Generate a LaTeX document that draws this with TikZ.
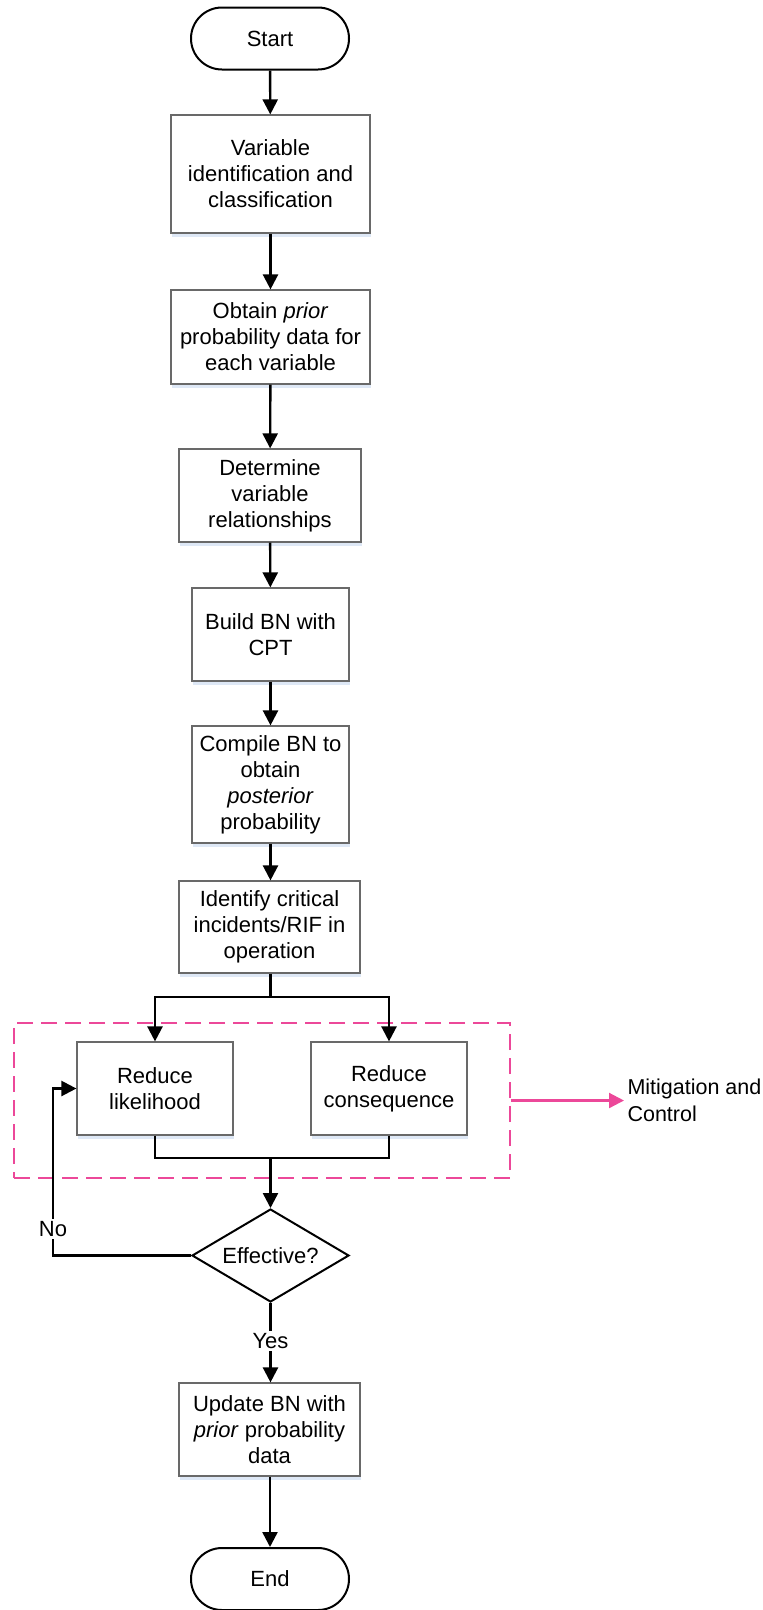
\documentclass[tikz,border=0pt]{standalone}
\usepackage{fontspec}
\setmainfont{Liberation Sans}
\usetikzlibrary{shapes.geometric,shapes.misc,arrows.meta,shadows}

\definecolor{zonepink}{RGB}{236,72,153}
\definecolor{boxedge}{RGB}{105,105,105}
\definecolor{shadowblue}{RGB}{222,232,246}

\begin{document}
\begin{tikzpicture}[x=1pt,y=-1pt,
  every node/.style={font=\fontsize{22}{26}\selectfont},
  procbox/.style={draw=boxedge, line width=1.2pt, fill=white, align=center,
    inner sep=0pt,
    drop shadow={shadow xshift=1pt, shadow yshift=-3.5pt, fill=shadowblue, opacity=1}},
  term/.style={draw=black, line width=2pt, rounded rectangle, fill=white,
    minimum width=158pt, minimum height=62pt, inner sep=0pt},
  decision/.style={draw=black, line width=2pt, diamond, aspect=1.69, fill=white,
    minimum width=157pt, minimum height=93pt, inner sep=0pt},
  flow/.style={draw=black, line width=2.4pt, line join=miter},
  conn/.style={flow, -{Triangle[length=15pt,width=15pt]}},
  zone/.style={draw=zonepink, line width=1.2pt, dash pattern=on 16pt off 8pt},
  zonearrow/.style={draw=zonepink, line width=2.2pt, -{Triangle[length=15pt,width=15pt]}},
  gaplabel/.style={fill=white, inner sep=2pt}
]
\useasboundingbox (0,0) rectangle (763,1610);

% mitigation and control zone
\node[zone, minimum width=496pt, minimum height=155pt, inner sep=0pt] (zonebox) at (262,1100.5) {};

% main sequence
\node[term] (start) at (270,38.5) {Start};
\node[procbox, minimum width=199pt, minimum height=118pt] (ident) at (270.5,174)
  {Variable\\identification and\\classification};
\node[procbox, minimum width=199pt, minimum height=94pt] (prior) at (270.5,337)
  {Obtain \textit{prior}\\probability data for\\each variable};
\node[procbox, minimum width=182pt, minimum height=93pt] (relat) at (270,495.5)
  {Determine\\variable\\relationships};
\node[procbox, minimum width=157pt, minimum height=93pt] (build) at (270.5,634.5)
  {Build BN with\\CPT};
\node[procbox, minimum width=157pt, minimum height=117pt] (compile) at (270.5,784.5)
  {Compile BN to\\obtain\\\textit{posterior}\\probability};
\node[procbox, minimum width=181pt, minimum height=92pt] (crit) at (269.5,927)
  {Identify critical\\incidents/RIF in\\operation};
\node[procbox, minimum width=156pt, minimum height=93pt] (like) at (155,1088.5)
  {Reduce\\likelihood};
\node[procbox, minimum width=156pt, minimum height=93pt] (cons) at (389,1088.5)
  {Reduce\\consequence};
\node[decision] (eff) at (270.5,1255.5) {Effective?};
\node[procbox, minimum width=181pt, minimum height=93pt] (update) at (269.5,1429.5)
  {Update BN with\\\textit{prior} probability\\data};
\node[term] (end) at (270,1579) {End};

\node[anchor=west, align=left, font=\fontsize{21.5}{27}\selectfont] (mit) at (624,1100.5)
  {Mitigation and\\Control};

% connectors
\draw[conn] (start) -- (ident);
\draw[conn] (ident) -- (prior);
\draw[conn] (prior) -- (relat);
\draw[conn] (relat) -- (build);
\draw[conn] (build) -- (compile);
\draw[conn] (compile) -- (crit.north -| compile.south);

\coordinate (split) at (270.5,997);
\draw[flow] (crit.south -| split) -- (split);
\draw[conn] (split) -| (like.north);
\draw[conn] (split) -| (cons.north);

\coordinate (merge) at (270.5,1158);
\draw[flow] (like.south) |- (merge);
\draw[flow] (cons.south) |- (merge);
\draw[conn] (merge) -- (eff.north);

\coordinate (loop) at (53,1255.5);
\draw[conn] (eff.west) -- (loop) |- (like.west);
\node[gaplabel] (no) at (53,1229) {No};

\draw[conn] (eff.south) -- (update.north -| eff.south);
\node[gaplabel] (yes) at (270.5,1341) {Yes};

\draw[conn] (update.south -| end.north) -- (end.north);

\draw[zonearrow] (zonebox.east) -- (mit.west);
\end{tikzpicture}
\end{document}
